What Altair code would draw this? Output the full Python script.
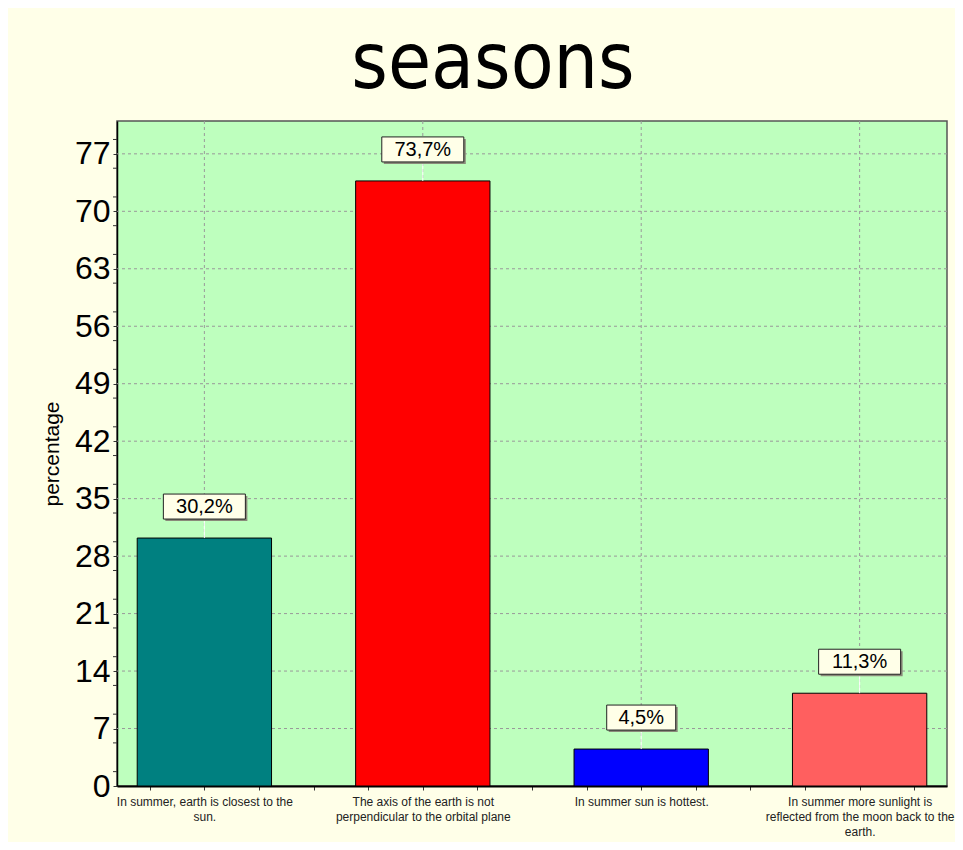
import json
import altair as alt
import pandas as pd

# ---- data ----
categories = [
    "In summer, earth is closest to the sun.",
    "The axis of the earth is not perpendicular to the orbital plane",
    "In summer sun is hottest.",
    "In summer more sunlight is reflected from the moon back to the earth.",
]
category_lines = [
    ["In summer, earth is closest to the", "sun."],
    ["The axis of the earth is not", "perpendicular to the orbital plane"],
    ["In summer sun is hottest."],
    ["In summer more sunlight is", "reflected from the moon back to the", "earth."],
]
values = [30.2, 73.7, 4.5, 11.3]
bar_colors = ["#008080", "#FF0000", "#0000FF", "#FF5F5F"]
y_labels = [0, 7, 14, 21, 28, 35, 42, 49, 56, 63, 70, 77]

df = pd.DataFrame({
    "idx": list(range(len(categories))),
    "category": categories,
    "value": values,
    "label": [f"{v:.1f}".replace(".", ",") + "%" for v in values],
})
grid_df = pd.DataFrame({"yv": y_labels[1:]})
minor_df = pd.DataFrame({"yv": sorted(
    [v - 1.75 for v in y_labels if v > 0] + [v + 1.75 for v in y_labels]
)})

x_tick_values = [i * 0.25 for i in range(-1, 4 * (len(categories) - 1) + 2)]

label_expr = ""
for i, lines in enumerate(category_lines):
    label_expr += f"datum.value === {i} ? {json.dumps(lines)} : "
label_expr += "''"

FONT = "Liberation Sans"
XDOM = [-0.4, len(categories) - 0.6]
xscale = alt.Scale(domain=XDOM, nice=False, zero=False)
yscale = alt.Scale(domain=[0, 81], nice=False)
W, H = 830, 665

base = alt.Chart(df)

xaxis = alt.Axis(
    values=x_tick_values, labelExpr=label_expr, title=None, grid=False,
    labelFont=FONT, labelFontSize=12, labelColor="#222", labelLineHeight=15,
    labelBaseline="top", labelPadding=6, labelOverlap=False, labelFlush=False,
    labelBound=False, labelLimit=400, tickSize=4, tickColor="#333",
    domainColor="#000", domainWidth=2,
)
yaxis = alt.Axis(
    values=y_labels,
    title="percentage", titleFont=FONT, titleFontSize=21, titleFontWeight="normal",
    titleColor="#000", titlePadding=12, grid=False,
    labelFont=FONT, labelFontSize=32, labelColor="#000", labelPadding=3,
    labelOverlap=False, tickSize=4, tickColor="#333", domainColor="#000", domainWidth=1.5,
)

vgrid = base.mark_rule(color="#999", strokeDash=[3, 3], strokeWidth=1).encode(
    x=alt.X("idx:Q", scale=xscale, axis=xaxis),
)
hgrid = alt.Chart(grid_df).mark_rule(color="#999", strokeDash=[3, 3], strokeWidth=1).encode(
    y=alt.Y("yv:Q", scale=yscale, axis=yaxis),
)
minor = alt.Chart(minor_df).mark_rule(color="#333", strokeWidth=1).encode(
    y=alt.Y("yv:Q", scale=yscale),
    x=alt.value(-4), x2=alt.value(0),
)

bars = base.transform_calculate(
    x0="datum.idx - 0.3075", x1="datum.idx + 0.3075"
).mark_bar(stroke="#000", strokeWidth=1).encode(
    x=alt.X("x0:Q", scale=xscale),
    x2="x1:Q",
    y=alt.Y("value:Q", scale=yscale),
    y2=alt.datum(0),
    color=alt.Color("category:N", scale=alt.Scale(domain=categories, range=bar_colors), legend=None),
)

connector = base.mark_rule(color="#FFFFFF", strokeWidth=1, y2Offset=-19).encode(
    x=alt.X("idx:Q", scale=xscale),
    y=alt.Y("value:Q", scale=yscale),
    y2="value:Q",
)

boxed = base.transform_calculate(
    hw="(length(datum.label) * 6.5 + 8.5) / 218.4",
    bx0="datum.idx - datum.hw", bx1="datum.idx + datum.hw",
)
shadow = boxed.mark_rect(color="#8a8a7a", xOffset=2, x2Offset=2, yOffset=-42, y2Offset=-17).encode(
    x=alt.X("bx0:Q", scale=xscale), x2="bx1:Q",
    y=alt.Y("value:Q", scale=yscale), y2="value:Q",
)
box = boxed.mark_rect(fill="#FFFFE8", stroke="#222", strokeWidth=1, yOffset=-44, y2Offset=-19).encode(
    x=alt.X("bx0:Q", scale=xscale), x2="bx1:Q",
    y=alt.Y("value:Q", scale=yscale), y2="value:Q",
)
text = base.mark_text(font=FONT, fontSize=20, color="#000", baseline="middle", dy=-31).encode(
    x=alt.X("idx:Q", scale=xscale),
    y=alt.Y("value:Q", scale=yscale),
    text="label:N",
)

chart = alt.layer(vgrid, hgrid, minor, bars, connector, shadow, box, text).properties(
    width=W, height=H,
    background="#FFFFE8",
    padding={"left": 109, "top": 113, "right": 8, "bottom": 56},
    autosize=alt.AutoSizeParams(type="none"),
    title=alt.TitleParams(
        "seasons", font="DejaVu Sans Condensed", fontSize=78, fontWeight="normal",
        color="#000", anchor="middle", baseline="alphabetic", offset=-45, dx=-39,
    ),
).configure_view(
    fill="#BEFFBE", stroke="#555", strokeWidth=1.5,
)

chart.save("out.html", embed_options={"renderer": "svg", "actions": False})
